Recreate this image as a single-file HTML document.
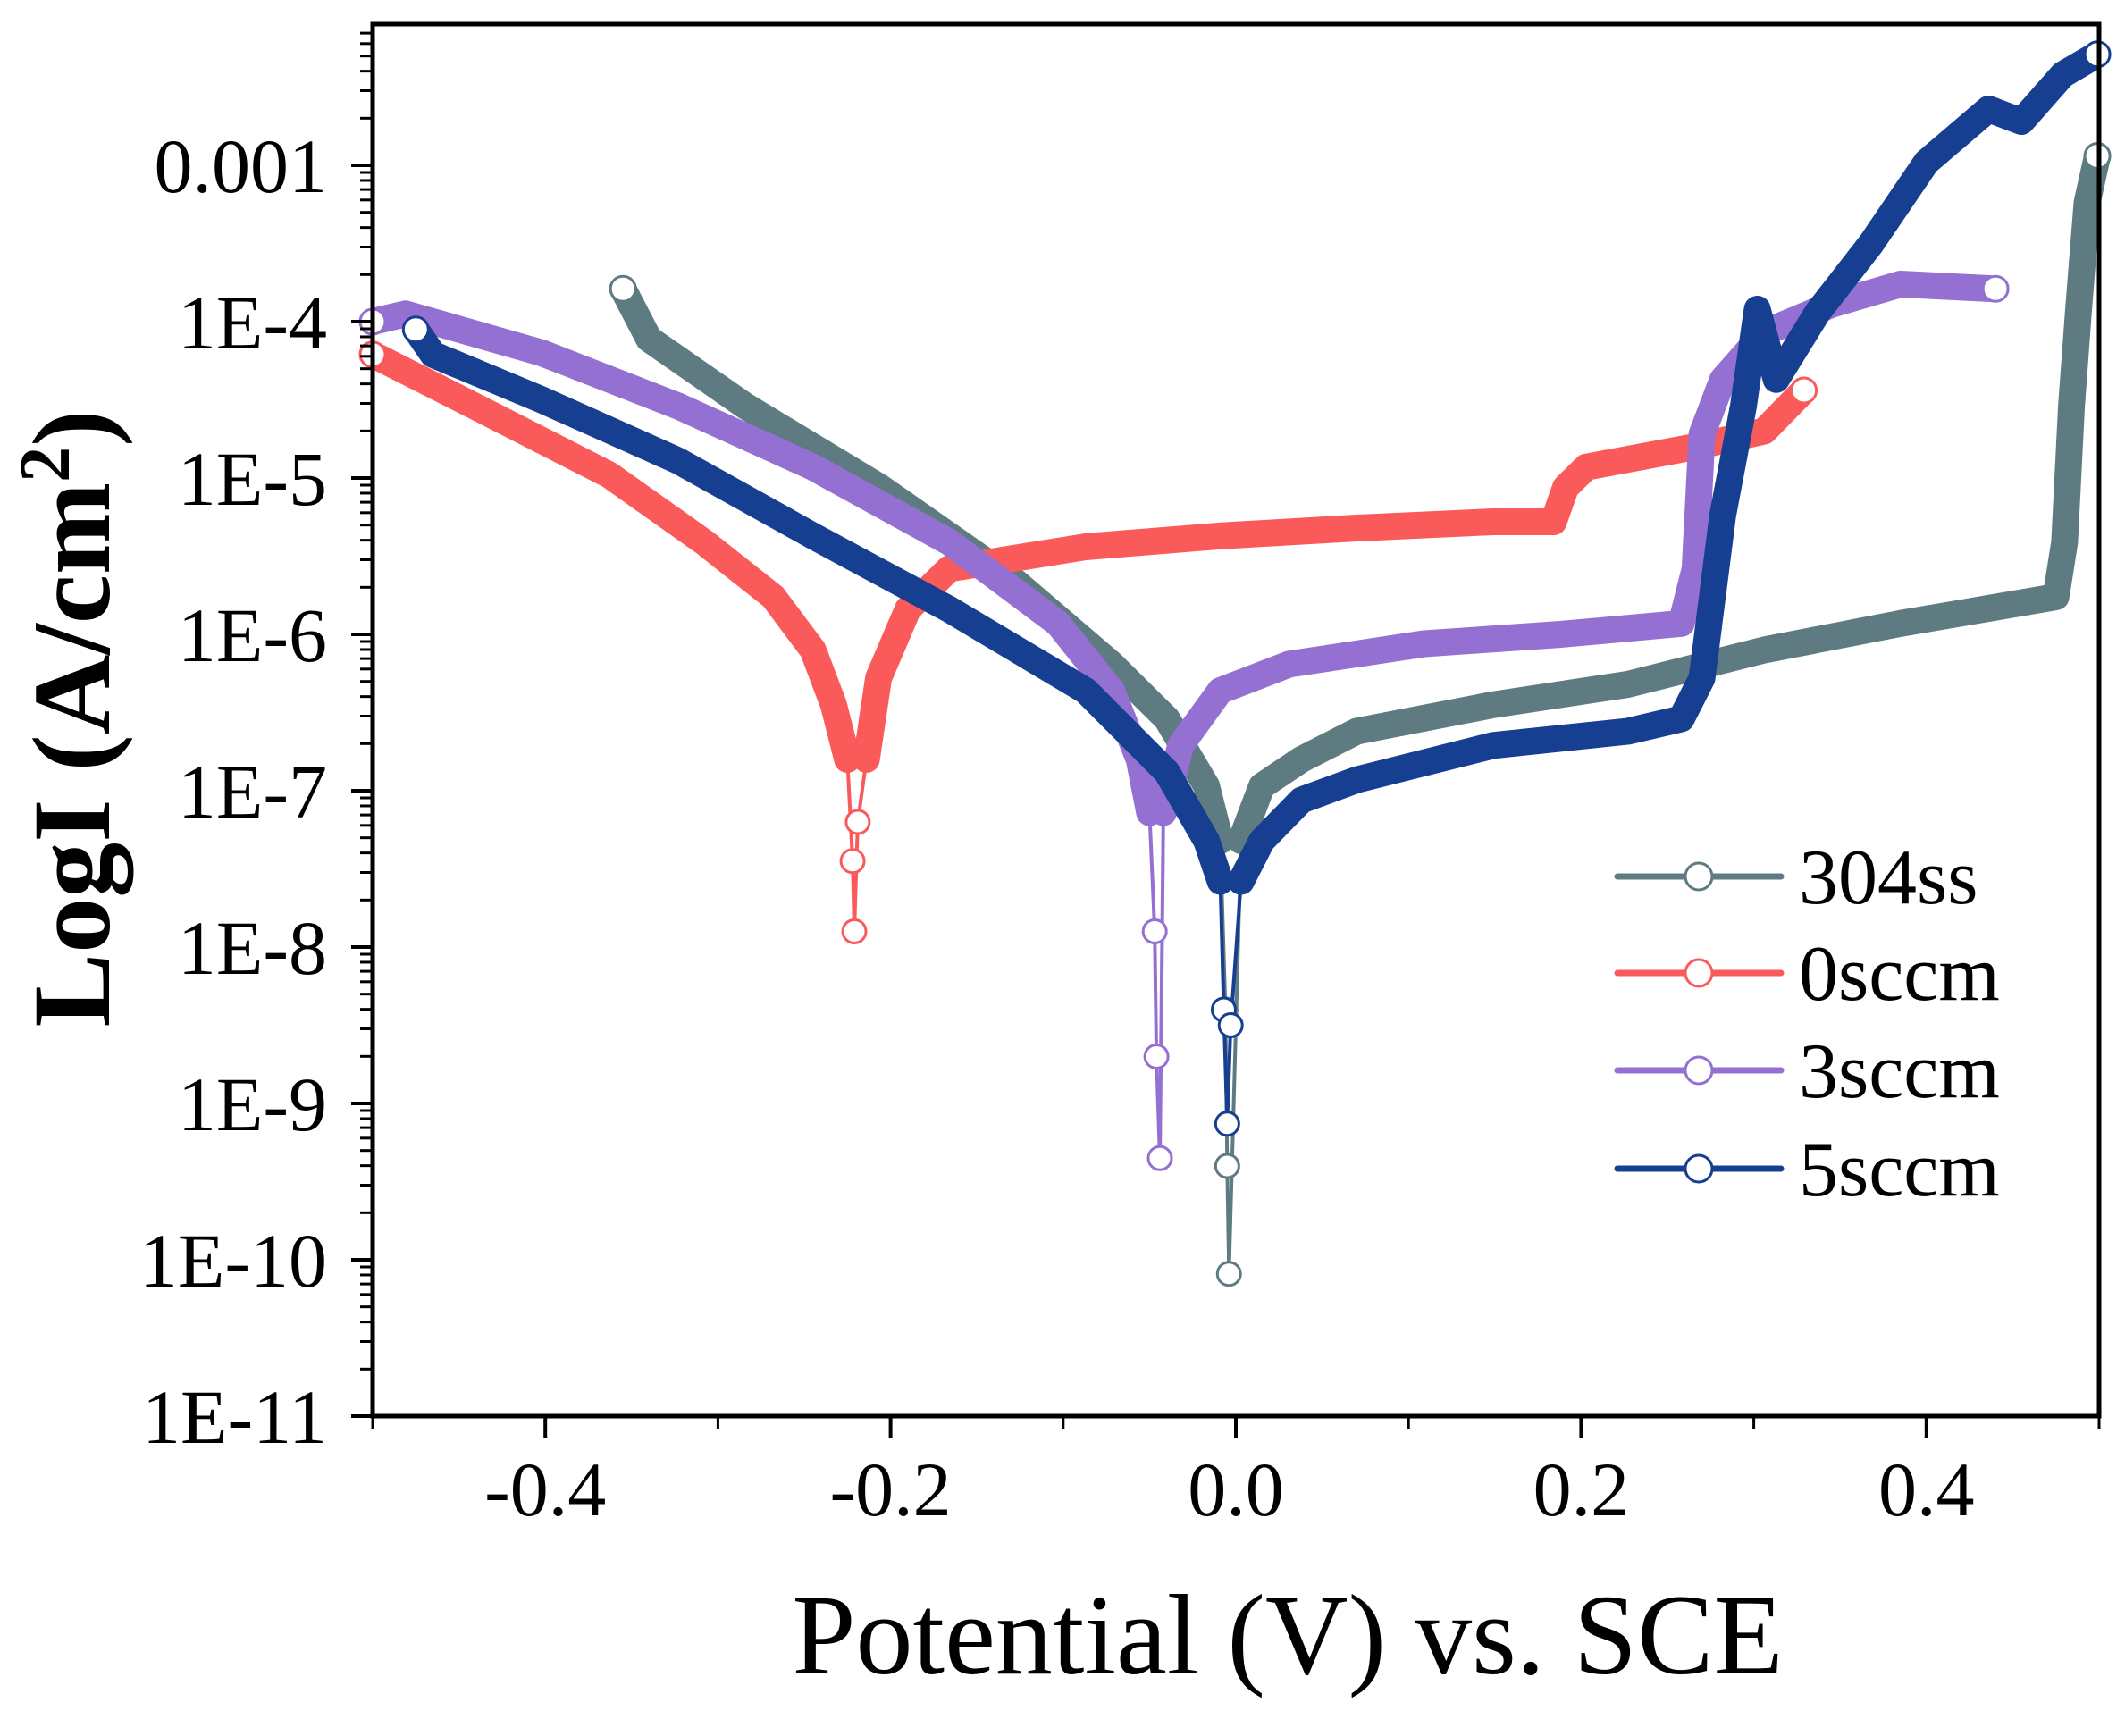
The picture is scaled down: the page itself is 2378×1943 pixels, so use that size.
<!DOCTYPE html>
<html><head><meta charset="utf-8"><style>
html,body{margin:0;padding:0;background:#fff;}
svg{display:block;}
text{font-family:"Liberation Serif",serif;fill:#000;}
</style></head><body>
<svg id="chart" width="2378" height="1943" viewBox="0 0 2378 1943" xmlns="http://www.w3.org/2000/svg">
<g id="plot"></g>
<g id="axes"></g>
<g id="legend"></g>
<text x="1441" y="1873" font-size="128" text-anchor="middle">Potential (V) vs. SCE</text>
<text transform="translate(122,804) rotate(-90)" font-size="124" font-weight="bold" text-anchor="middle">LogI (A/cm<tspan font-size="80" dy="-45">2</tspan><tspan dy="45">)</tspan></text>
</svg>
<script>
const xTicks=[-0.4,-0.2,0.0,0.2,0.4];
const xTickLabels=["-0.4","-0.2","0.0","0.2","0.4"];
const yTicks=[-3,-4,-5,-6,-7,-8,-9,-10,-11];
const yTickLabels=["0.001","1E-4","1E-5","1E-6","1E-7","1E-8","1E-9","1E-10","1E-11"];
const seriesNames=["304ss","0sccm","3sccm","5sccm"];
const seriesColors=["#5f7b82","#fa5a5a","#9370d2","#173f91"];
// 304ss
const s304CathV=[-0.355,-0.34,-0.284,-0.206,-0.127,-0.072,-0.040,-0.017,-0.009];
const s304CathI=[-3.79,-4.11,-4.54,-5.06,-5.67,-6.19,-6.54,-6.97,-7.32];
const s304DipV=[-0.009,-0.006,-0.005,-0.004,0.003];
const s304DipI=[-7.32,-8.4,-9.4,-10.09,-7.32];
const s304AnodV=[0.003,0.015,0.038,0.070,0.149,0.227,0.306,0.385,0.475,0.480,0.484,0.488,0.493,0.499];
const s304AnodI=[-7.32,-6.97,-6.80,-6.62,-6.45,-6.32,-6.10,-5.93,-5.76,-5.41,-4.54,-3.94,-3.24,-2.94];
// 0sccm
const s0CathV=[-0.5,-0.441,-0.363,-0.308,-0.268,-0.245,-0.233,-0.225];
const s0CathI=[-4.21,-4.54,-4.98,-5.41,-5.76,-6.10,-6.45,-6.80];
const s0DipV=[-0.225,-0.222,-0.221,-0.219,-0.214];
const s0DipI=[-6.80,-7.45,-7.90,-7.2,-6.80];
const s0AnodV=[-0.214,-0.207,-0.190,-0.166,-0.087,-0.009,0.070,0.149,0.184,0.191,0.203,0.266,0.306,0.329];
const s0AnodI=[-6.80,-6.28,-5.84,-5.58,-5.44,-5.37,-5.32,-5.28,-5.28,-5.06,-4.93,-4.80,-4.70,-4.44];
// 3sccm
const s3CathV=[-0.5,-0.481,-0.402,-0.323,-0.245,-0.166,-0.103,-0.072,-0.056,-0.050];
const s3CathI=[-4.0,-3.95,-4.20,-4.54,-4.93,-5.41,-5.93,-6.36,-6.80,-7.14];
const s3DipV=[-0.050,-0.047,-0.046,-0.044,-0.042];
const s3DipI=[-7.14,-7.9,-8.7,-9.35,-7.14];
const s3AnodV=[-0.042,-0.032,-0.009,0.031,0.109,0.188,0.258,0.266,0.270,0.282,0.306,0.345,0.385,0.440];
const s3AnodI=[-7.14,-6.71,-6.36,-6.19,-6.06,-6.00,-5.93,-5.58,-4.72,-4.37,-4.07,-3.89,-3.76,-3.79];
// 5sccm
const s5CathV=[-0.475,-0.465,-0.402,-0.323,-0.245,-0.166,-0.087,-0.040,-0.017,-0.009];
const s5CathI=[-4.05,-4.21,-4.50,-4.89,-5.37,-5.84,-6.36,-6.88,-7.32,-7.58];
const s5DipV=[-0.009,-0.007,-0.005,-0.003,0.003];
const s5DipI=[-7.58,-8.4,-9.13,-8.5,-7.58];
const s5AnodV=[0.003,0.015,0.038,0.070,0.149,0.227,0.258,0.270,0.276,0.282,0.294,0.302,0.313,0.337,0.368,0.400,0.436,0.455,0.479,0.499];
const s5AnodI=[-7.58,-7.32,-7.06,-6.93,-6.71,-6.62,-6.54,-6.28,-5.76,-5.24,-4.54,-3.92,-4.37,-3.94,-3.50,-2.98,-2.64,-2.72,-2.42,-2.29];

const L=417,R=2349,T=27,B=1585;
const sx=v=>L+(v+0.5)*(R-L);
const sy=l=>185+(-3-l)*175;
const NS="http://www.w3.org/2000/svg";
function mk(tag,attrs,parent){const e=document.createElementNS(NS,tag);for(const k in attrs)e.setAttribute(k,attrs[k]);parent.appendChild(e);return e;}
const plot=document.getElementById('plot'),axes=document.getElementById('axes'),legend=document.getElementById('legend');
function pts(V,I){return V.map((v,i)=>sx(v).toFixed(1)+','+sy(I[i]).toFixed(1)).join(' ');}
const all=[[s304CathV,s304CathI,s304DipV,s304DipI,s304AnodV,s304AnodI],[s0CathV,s0CathI,s0DipV,s0DipI,s0AnodV,s0AnodI],[s3CathV,s3CathI,s3DipV,s3DipI,s3AnodV,s3AnodI],[s5CathV,s5CathI,s5DipV,s5DipI,s5AnodV,s5AnodI]];
all.forEach((s,k)=>{
  const c=seriesColors[k];
  const g=mk('g',{},plot);
  
  
  const dip=mk('polyline',{points:pts(s[2],s[3]),fill:'none',stroke:c,'stroke-width':4},g);
  
  
  s[2].forEach((v,i)=>{const ci=mk('circle',{cx:sx(v),cy:sy(s[3][i]),r:13,fill:'#fff',stroke:c,'stroke-width':3},g);
    
    });
  [[s[0],s[1]],[s[4],s[5]]].forEach((b,j)=>{
    const p=mk('polyline',{points:pts(b[0],b[1]),fill:'none',stroke:c,'stroke-width':30,'stroke-linejoin':'round','stroke-linecap':'round'},g);
    
    
  });
  const ends=[[s[0][0],s[1][0]],[s[4][s[4].length-1],s[5][s[5].length-1]]];
  ends.forEach(e=>{const ci=mk('circle',{cx:sx(e[0]),cy:sy(e[1]),r:14,fill:'#fff',stroke:c,'stroke-width':3},g);
    
    });
});
// frame
const fr=mk('rect',{x:L,y:T,width:R-L,height:B-T,fill:'none',stroke:'#000','stroke-width':5},axes);


// x ticks
xTicks.forEach((v,i)=>{
  mk('line',{x1:sx(v),x2:sx(v),y1:B,y2:B+24,stroke:'#000','stroke-width':4},axes);
  const t=mk('text',{x:sx(v),y:1696,'font-size':86,'text-anchor':'middle'},axes);
  t.textContent=xTickLabels[i];
  
  
});
for(let v=-0.5;v<=0.51;v+=0.2){mk('line',{x1:sx(v),x2:sx(v),y1:B,y2:B+14,stroke:'#000','stroke-width':3},axes);}
// y ticks
yTicks.forEach((l,i)=>{
  mk('line',{x1:L-24,x2:L,y1:sy(l),y2:sy(l),stroke:'#000','stroke-width':4},axes);
  const t=mk('text',{x:366,y:sy(l)+30,'font-size':86,'text-anchor':'end'},axes);
  t.textContent=yTickLabels[i];
  
  
});
for(let d=-11;d<=-3;d++){for(let m=2;m<=9;m++){const l=d+Math.log10(m);const y=sy(l);if(y<T)continue;
  mk('line',{x1:L-14,x2:L,y1:y,y2:y,stroke:'#000','stroke-width':3},axes);}}
// legend
const legY=[981,1089,1198,1308];
seriesNames.forEach((n,k)=>{
  const g=mk('g',{},legend);
  
  
  mk('line',{x1:1810,x2:1993,y1:legY[k],y2:legY[k],stroke:seriesColors[k],'stroke-width':7,'stroke-linecap':'round'},g);
  mk('circle',{cx:1901,cy:legY[k],r:15,fill:'#fff',stroke:seriesColors[k],'stroke-width':3},g);
  const t=mk('text',{x:2013,y:legY[k]+30,'font-size':88},g);
  t.textContent=n;
});
</script>
</body></html>
